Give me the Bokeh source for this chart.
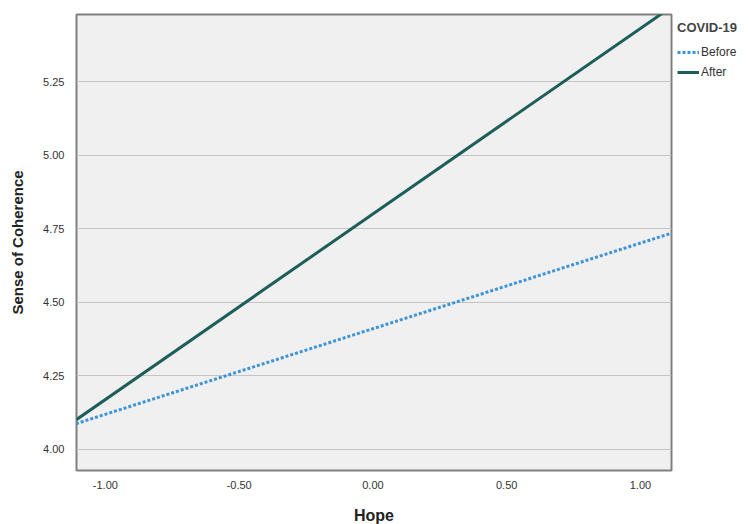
from bokeh.plotting import figure
from bokeh.models import Range1d, FixedTicker, Legend, LegendItem, CustomJSTickFormatter
from bokeh.embed import file_html
from bokeh.resources import INLINE

# Data
hope_x = [-1.11, 1.11]
before_y = [4.087, 4.733]
after_y = [4.10, 5.50]
y_ticks = [4.00, 4.25, 4.50, 4.75, 5.00, 5.25]
x_ticks = [-1.00, -0.50, 0.00, 0.50, 1.00]
series_names = ["Before", "After"]
legend_title = "COVID-19"

FONT = "Liberation Sans"

p = figure(frame_width=595, frame_height=456, output_backend="svg", toolbar_location=None,
           x_range=Range1d(-1.108, 1.116), y_range=Range1d(3.928, 5.478),
           min_border_left=76, min_border_right=0, min_border_top=14, min_border_bottom=54)

p.background_fill_color = "#f0f0f0"
p.border_fill_color = "white"
p.outline_line_color = "#808080"
p.outline_line_width = 2

p.xgrid.visible = False
p.ygrid.grid_line_color = "#c4c4c4"
p.ygrid.grid_line_width = 1

fmt = CustomJSTickFormatter(code="return tick.toFixed(2);")
for ax, ticks in ((p.xaxis, x_ticks), (p.yaxis, y_ticks)):
    ax.ticker = FixedTicker(ticks=ticks)
    ax.formatter = fmt
    ax.axis_line_color = None
    ax.major_tick_line_color = None
    ax.minor_tick_line_color = None
    ax.major_label_text_font = FONT
    ax.major_label_text_font_size = "11px"
    ax.major_label_text_color = "#333333"
    ax.axis_label_text_font = FONT
    ax.axis_label_text_font_style = "bold"
    ax.axis_label_text_color = "#222222"

p.xaxis.axis_label = "Hope"
p.xaxis.axis_label_text_font_size = "16px"
p.xaxis.major_label_standoff = 4
p.xaxis.axis_label_standoff = 15
p.yaxis.axis_label = "Sense of Coherence"
p.yaxis.axis_label_text_font_size = "15px"
p.yaxis.major_label_standoff = 6
p.yaxis.axis_label_standoff = 14

r_before = p.line(hope_x, before_y, line_color="#3d94d9", line_width=3, line_dash="3 2")
r_after = p.line(hope_x, after_y, line_color="#1e5e5a", line_width=3)

legend = Legend(items=[LegendItem(label=series_names[0], renderers=[r_before]),
                       LegendItem(label=series_names[1], renderers=[r_after])],
                title=legend_title, location="top_left",
                background_fill_alpha=0, border_line_color=None,
                title_text_font=FONT, title_text_font_style="bold", title_text_font_size="13px",
                label_text_font=FONT, label_text_font_size="12px", label_text_color="#333333",
                glyph_width=22, glyph_height=18, label_standoff=2, spacing=2, padding=3,
                margin=6, label_height=18, title_standoff=8)
p.add_layout(legend, "right")

open("out.html", "w").write(file_html(p, INLINE))
